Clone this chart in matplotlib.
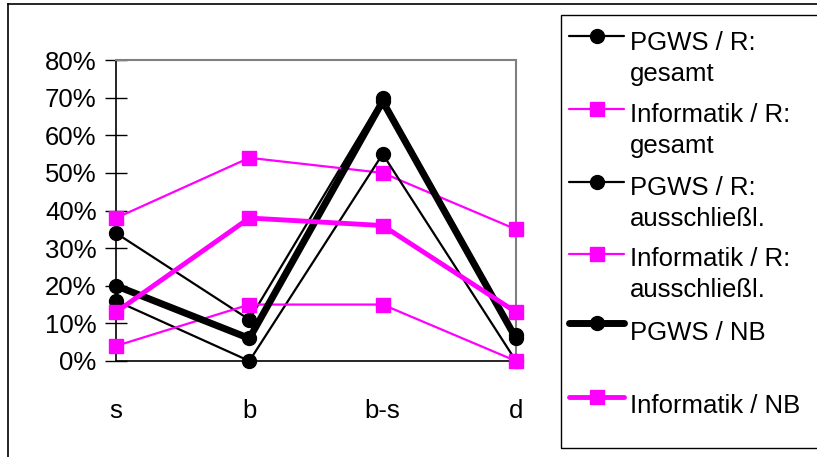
import matplotlib
matplotlib.use("Agg")
import matplotlib.pyplot as plt
from matplotlib.lines import Line2D
from matplotlib.patches import Rectangle
from matplotlib.ticker import FuncFormatter

plt.rcParams['font.family'] = ['Liberation Sans', 'DejaVu Sans']

categories = ["s", "b", "b-s", "d"]
series_names = ["PGWS / R:\ngesamt", "Informatik / R:\ngesamt", "PGWS / R:\nausschließl.",
                "Informatik / R:\nausschließl.", "PGWS / NB", "Informatik / NB"]
pgws_gesamt = [0.34, 0.11, 0.70, 0.07]
inf_gesamt = [0.38, 0.54, 0.50, 0.35]
pgws_aus = [0.16, 0.00, 0.55, 0.00]
inf_aus = [0.04, 0.15, 0.15, 0.00]
pgws_nb = [0.20, 0.06, 0.69, 0.06]
inf_nb = [0.13, 0.38, 0.36, 0.13]
yticks = [0, 0.1, 0.2, 0.3, 0.4, 0.5, 0.6, 0.7, 0.8]

MAG = "#FF00FF"
styles = [
    dict(color="black", lw=1.6, marker="o", ms=10),
    dict(color=MAG, lw=1.6, marker="s", ms=10),
    dict(color="black", lw=1.6, marker="o", ms=10),
    dict(color=MAG, lw=1.6, marker="s", ms=10),
    dict(color="black", lw=5, marker="o", ms=10),
    dict(color=MAG, lw=3.5, marker="s", ms=10),
]
data = [pgws_gesamt, inf_gesamt, pgws_aus, inf_aus, pgws_nb, inf_nb]

W, H = 817, 457
fig = plt.figure(figsize=(W / 100, H / 100), dpi=100)

def fx(px):
    return px / W

def fy(py):
    return 1 - py / H

ax = fig.add_axes([fx(116), fy(361), 400 / W, 301 / H])
x = list(range(len(categories)))
for d, st in zip(data, styles):
    ax.plot(x, d, color=st["color"], lw=st["lw"], marker=st["marker"], ms=st["ms"],
            mec=st["color"], mfc=st["color"], clip_on=False, zorder=3)

ax.set_xlim(0, len(categories) - 1)
ax.set_ylim(0, 0.8)
ax.set_yticks(yticks)
ax.yaxis.set_major_formatter(FuncFormatter(lambda v, p: f"{round(v * 100):d}%"))
ax.tick_params(axis="y", direction="inout", length=16, width=1, labelsize=18.5, pad=6, colors="black")
ax.set_xticks(x)
ax.set_xticklabels(categories)
ax.tick_params(axis="x", which="major", length=0, labelsize=18.5, pad=27)
ax.set_xticks([0, 2, 3], minor=True)
ax.tick_params(axis="x", which="minor", direction="inout", length=16, width=1, color="black")

for s in ["left", "bottom"]:
    ax.spines[s].set_color("black")
    ax.spines[s].set_linewidth(1.2)
for s in ["top", "right"]:
    ax.spines[s].set_color("#808080")
    ax.spines[s].set_linewidth(1.5)

# outer chart border (only top and left visible)
fig.add_artist(Line2D([fx(8), fx(8)], [fy(4), fy(470)], transform=fig.transFigure, color="black", lw=1.2))
fig.add_artist(Line2D([fx(8), fx(830)], [fy(4), fy(4)], transform=fig.transFigure, color="black", lw=1.2))

# legend box
fig.add_artist(Rectangle((fx(561), fy(448)), fx(300), (448 - 15) / H, transform=fig.transFigure,
                         fill=False, ec="black", lw=1.0))

handle_y = [36, 109, 182, 254, 323, 397]
text_base = [50, 122, 195, 266, 340, 413]
line_gap = 31
for name, st, hy, tb in zip(series_names, styles, handle_y, text_base):
    fig.add_artist(Line2D([fx(569), fx(624)], [fy(hy), fy(hy)], transform=fig.transFigure,
                          color=st["color"], lw=st["lw"], solid_capstyle="round"))
    fig.add_artist(Line2D([fx(597)], [fy(hy)], transform=fig.transFigure, color=st["color"],
                          marker=st["marker"], ms=st["ms"], mfc=st["color"], mec=st["color"], lw=0))
    for i, part in enumerate(name.split("\n")):
        fig.text(fx(630), fy(tb + i * line_gap), part, fontsize=18.5, va="baseline", ha="left")

fig.savefig("out.png", dpi=100)
